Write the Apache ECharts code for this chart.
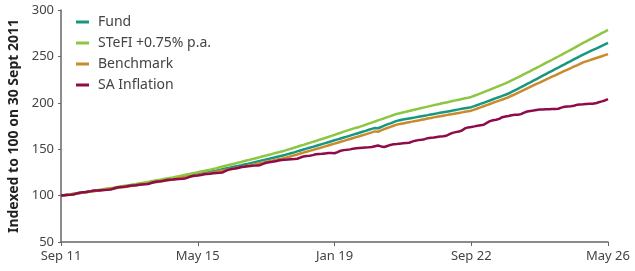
<!DOCTYPE html>
<html>
<head>
<meta charset="utf-8">
<script src="https://cdn.jsdelivr.net/npm/echarts@6/dist/echarts.min.js"></script>
<style>
  html, body { margin: 0; padding: 0; background: #fff; }
  #chart { width: 635px; height: 271px; }
</style>
</head>
<body>
<div id="chart"></div>
<script>
// monthly, Sep 2011 .. May 2026 (177 points)
const monthNames = ['Jan', 'Feb', 'Mar', 'Apr', 'May', 'Jun', 'Jul', 'Aug', 'Sep', 'Oct', 'Nov', 'Dec']
const startYear = 2011
const startMonth = 8 // Sep
const monthCount = 177
const tickLabels = ['Sep 11', 'May 15', 'Jan 19', 'Sep 22', 'May 26']

const fund = [
  100,
  100.4, 100.9, 101.3, 101.8, 102.3, 102.8, 103.2, 103.7, 104.2, 104.7, 105.1, 105.6,
  106.1, 106.6, 107.1, 107.6, 108.1, 108.5, 109.0, 109.5, 110.0, 110.5, 111.0, 111.5,
  112.0, 112.6, 113.1, 113.7, 114.2, 114.8, 115.3, 115.9, 116.4, 117.0, 117.5, 118.1,
  118.7, 119.3, 119.9, 120.6, 121.2, 121.8, 122.4, 123.0, 123.6, 124.3, 124.9, 125.5,
  126.2, 126.9, 127.7, 128.4, 129.1, 129.8, 130.6, 131.3, 132.0, 132.7, 133.5, 134.2,
  135.0, 135.8, 136.6, 137.4, 138.2, 139.0, 139.7, 140.5, 141.3, 142.1, 142.9, 143.7,
  144.7, 145.7, 146.6, 147.6, 148.6, 149.6, 150.6, 151.6, 152.5, 153.5, 154.5, 155.5,
  156.5, 157.5, 158.5, 159.6, 160.6, 161.6, 162.6, 163.6, 164.6, 165.7, 166.7, 167.7,
  168.8, 169.8, 170.9, 171.9, 172.9, 172.6, 173.9, 175.4, 176.7, 177.9, 179.2, 180.5,
  181.2, 181.9, 182.5, 183.1, 183.7, 184.3, 184.9, 185.5, 186.1, 186.7, 187.4, 188.0,
  188.6, 189.2, 189.8, 190.4, 191.0, 191.6, 192.3, 192.9, 193.5, 194.1, 194.7, 195.3,
  196.4, 197.6, 198.8, 200.0, 201.3, 202.5, 203.8, 205.0, 206.2, 207.5, 208.7, 210.0,
  211.7, 213.4, 215.1, 216.8, 218.6, 220.3, 222.0, 223.8, 225.6, 227.4, 229.2, 231.0,
  232.7, 234.4, 236.2, 237.9, 239.7, 241.4, 243.2, 244.9, 246.7, 248.5, 250.2, 252.0,
  253.6, 255.1, 256.7, 258.2, 259.8, 261.4, 262.9, 264.5
]

const stefi = [
  100,
  100.5, 101.0, 101.5, 102.0, 102.5, 103.0, 103.5, 104.0, 104.5, 105.0, 105.5, 106.0,
  106.5, 107.1, 107.6, 108.1, 108.6, 109.2, 109.7, 110.3, 110.8, 111.3, 111.9, 112.4,
  113.0, 113.6, 114.2, 114.8, 115.4, 116.0, 116.6, 117.2, 117.8, 118.4, 119.0, 119.6,
  120.3, 121.0, 121.7, 122.4, 123.1, 123.8, 124.5, 125.2, 125.9, 126.6, 127.3, 128.0,
  128.8, 129.6, 130.5, 131.3, 132.1, 133.0, 133.8, 134.6, 135.5, 136.3, 137.2, 138.0,
  138.9, 139.7, 140.6, 141.5, 142.4, 143.2, 144.1, 145.0, 145.9, 146.7, 147.6, 148.5,
  149.5, 150.5, 151.6, 152.6, 153.7, 154.7, 155.8, 156.8, 157.9, 158.9, 160.0, 161.0,
  162.1, 163.2, 164.4, 165.5, 166.6, 167.7, 168.9, 170.0, 171.1, 172.2, 173.1, 174.0,
  175.2, 176.3, 177.5, 178.7, 179.8, 181.0, 182.2, 183.3, 184.5, 185.7, 186.8, 188.0,
  188.8, 189.6, 190.4, 191.2, 192.0, 192.8, 193.5, 194.3, 195.1, 195.9, 196.7, 197.5,
  198.2, 198.9, 199.7, 200.4, 201.1, 201.9, 202.6, 203.3, 204.1, 204.8, 205.5, 206.3,
  207.6, 208.9, 210.2, 211.5, 212.8, 214.1, 215.5, 216.8, 218.2, 219.6, 221.0, 222.5,
  224.1, 225.8, 227.4, 229.1, 230.8, 232.5, 234.2, 235.9, 237.6, 239.4, 241.2, 243.0,
  244.7, 246.4, 248.2, 249.9, 251.7, 253.5, 255.3, 257.1, 258.9, 260.8, 262.6, 264.5,
  266.2, 268.0, 269.7, 271.5, 273.2, 275.0, 276.7, 278.5
]

const benchmark = [
  100,
  100.4, 100.9, 101.3, 101.8, 102.2, 102.7, 103.1, 103.6, 104.1, 104.5, 105.0, 105.4,
  105.9, 106.3, 106.8, 107.3, 107.7, 108.2, 108.7, 109.1, 109.6, 110.1, 110.5, 111.0,
  111.5, 112.1, 112.6, 113.1, 113.7, 114.2, 114.7, 115.3, 115.8, 116.3, 116.9, 117.4,
  118.0, 118.6, 119.2, 119.8, 120.4, 121.0, 121.5, 122.1, 122.7, 123.3, 123.9, 124.5,
  125.1, 125.8, 126.4, 127.0, 127.6, 128.3, 128.9, 129.5, 130.1, 130.8, 131.4, 132.0,
  132.7, 133.4, 134.1, 134.8, 135.5, 136.3, 137.0, 137.7, 138.4, 139.1, 139.8, 140.5,
  141.5, 142.4, 143.4, 144.3, 145.3, 146.3, 147.2, 148.2, 149.1, 150.1, 151.0, 152.0,
  153.0, 154.0, 155.0, 156.0, 157.0, 158.0, 159.0, 160.0, 161.0, 162.0, 163.0, 164.0,
  165.0, 166.0, 167.1, 168.1, 169.2, 168.8, 170.3, 171.6, 172.8, 174.0, 175.3, 176.5,
  177.1, 177.8, 178.4, 179.1, 179.7, 180.4, 181.0, 181.7, 182.3, 183.0, 183.6, 184.3,
  184.9, 185.5, 186.1, 186.7, 187.3, 187.9, 188.5, 189.1, 189.7, 190.3, 190.9, 191.5,
  192.7, 193.9, 195.1, 196.3, 197.5, 198.7, 200.0, 201.2, 202.4, 203.6, 204.8, 206.0,
  207.6, 209.2, 210.8, 212.3, 213.9, 215.5, 217.1, 218.7, 220.3, 221.8, 223.4, 225.0,
  226.5, 228.1, 229.6, 231.2, 232.7, 234.3, 235.8, 237.3, 238.9, 240.4, 242.0, 243.5,
  244.6, 245.7, 246.9, 248.0, 249.1, 250.2, 251.4, 252.5
]

const inflation = [
  100,
  100.3, 100.6, 100.8, 101.1, 102.2, 103.1, 103.6, 103.9, 104.3, 105.1, 105.4, 105.5,
  105.8, 106.1, 106.3, 106.6, 107.7, 108.7, 109.2, 109.5, 109.9, 110.7, 111.0, 111.2,
  111.6, 111.9, 112.1, 112.4, 113.6, 114.6, 115.2, 115.5, 116.0, 116.8, 117.1, 117.3,
  117.7, 118.0, 118.2, 118.5, 119.7, 120.8, 121.3, 121.6, 122.1, 123.0, 123.3, 123.5,
  124.0, 124.4, 124.6, 125.0, 126.6, 128.0, 128.7, 129.1, 129.7, 130.8, 131.2, 131.5,
  131.9, 132.3, 132.5, 132.8, 134.2, 135.4, 136.0, 136.4, 136.9, 137.9, 138.3, 138.5,
  138.9, 139.2, 139.4, 139.7, 141.0, 142.1, 142.7, 143.0, 143.6, 144.5, 144.8, 145.0,
  145.4, 145.8, 146.0, 145.6, 146.9, 148.4, 149.0, 149.3, 149.8, 150.6, 150.9, 151.2,
  151.5, 151.8, 152.0, 152.3, 153.2, 154.0, 153.0, 152.4, 153.5, 154.6, 155.3, 155.6,
  156.0, 156.3, 156.6, 156.9, 158.1, 159.2, 159.8, 160.2, 160.8, 161.9, 162.3, 162.6,
  163.2, 163.7, 164.0, 164.5, 166.2, 167.6, 168.4, 169.0, 170.2, 172.4, 173.5, 174.0,
  174.6, 175.3, 175.8, 176.3, 178.4, 180.2, 181.2, 181.7, 182.7, 184.5, 185.2, 185.8,
  186.6, 187.0, 187.2, 187.8, 189.4, 190.6, 191.2, 191.6, 192.2, 192.8, 192.9, 193.0,
  193.1, 193.2, 193.3, 193.6, 194.8, 195.7, 196.1, 196.4, 196.9, 197.8, 198.2, 198.4,
  198.7, 198.9, 199.1, 199.4, 200.6, 201.5, 202.5, 204.0
]

// category labels: "Sep 11", "Oct 11", ...
const categories = []
for (let i = 0; i < monthCount; i++) {
  const m = (startMonth + i) % 12
  const y = startYear + Math.floor((startMonth + i) / 12)
  categories.push(monthNames[m] + ' ' + String(y).slice(2))
}

const font = 'Noto Sans'
const textColor = '#444'
const axisColor = '#666'

const chart = echarts.init(document.getElementById('chart'))
chart.setOption({
  animation: false,
  textStyle: { fontFamily: font },
  grid: { left: 61, right: 27, top: 10, bottom: 29, containLabel: false, outerBoundsMode: 'none' },
  legend: {
    orient: 'vertical',
    left: 76,
    top: 14,
    padding: 0,
    icon: 'rect',
    itemWidth: 13,
    itemHeight: 3,
    itemGap: 5,
    textStyle: { fontFamily: font, fontSize: 14, color: textColor, lineHeight: 16, padding: [0, 0, 0, 4] },
    data: ['Fund', 'STeFI +0.75% p.a.', 'Benchmark', 'SA Inflation']
  },
  xAxis: {
    type: 'category',
    data: categories,
    boundaryGap: false,
    axisLine: { lineStyle: { color: axisColor, width: 1.5 } },
    axisTick: {
      show: true,
      interval: (i, v) => tickLabels.indexOf(v) >= 0,
      length: 4,
      lineStyle: { color: axisColor }
    },
    axisLabel: {
      interval: (i, v) => tickLabels.indexOf(v) >= 0,
      color: textColor,
      fontSize: 13,
      margin: 8,
      fontFamily: font
    },
    splitLine: { show: false }
  },
  yAxis: {
    type: 'value',
    min: 50,
    max: 300,
    interval: 50,
    name: 'Indexed to 100 on 30 Sept 2011',
    nameLocation: 'middle',
    nameGap: 40,
    nameTextStyle: { fontFamily: font, fontSize: 14, fontWeight: 'bold', color: '#222' },
    axisLine: { show: true, lineStyle: { color: axisColor, width: 1.5 } },
    axisTick: { show: true, length: 3, lineStyle: { color: axisColor } },
    axisLabel: { color: textColor, fontSize: 13, margin: 7, fontFamily: font },
    splitLine: { show: false }
  },
  series: [
    { name: 'Fund', type: 'line', data: fund, symbol: 'none', lineStyle: { width: 2.5, color: '#17977f' }, itemStyle: { color: '#17977f' } },
    { name: 'STeFI +0.75% p.a.', type: 'line', data: stefi, symbol: 'none', lineStyle: { width: 2.5, color: '#8dc641' }, itemStyle: { color: '#8dc641' } },
    { name: 'Benchmark', type: 'line', data: benchmark, symbol: 'none', lineStyle: { width: 2.5, color: '#c98a2d' }, itemStyle: { color: '#c98a2d' } },
    { name: 'SA Inflation', type: 'line', data: inflation, symbol: 'none', lineStyle: { width: 2.5, color: '#8e0c4a' }, itemStyle: { color: '#8e0c4a' } }
  ]
})
</script>
</body>
</html>
